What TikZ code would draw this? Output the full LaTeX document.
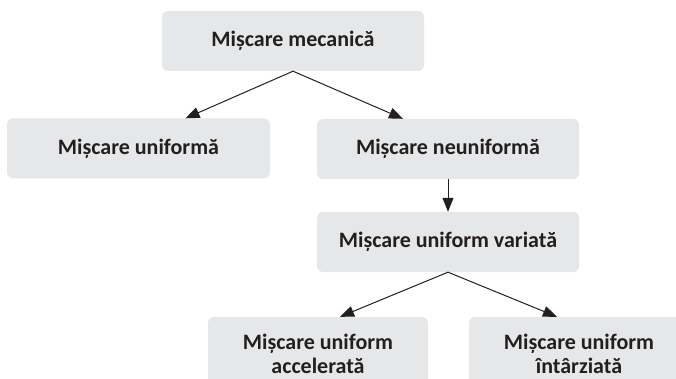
\documentclass[tikz,border=0pt]{standalone}
\usepackage{fontspec}
\setmainfont{Carlito}
\usetikzlibrary{arrows.meta}
\definecolor{boxgray}{HTML}{E6E7E8}
\definecolor{ink}{HTML}{231F20}
\tikzset{
  box/.style={rectangle, rounded corners=6pt, fill=boxgray, draw=none,
    text=ink, font=\fontsize{22}{24}\selectfont\bfseries, inner sep=0pt,
    minimum height=60pt, align=center},
  conn/.style={draw=ink, line width=1pt, -{Triangle[length=14pt,width=11pt]}}
}
\begin{document}
\begin{tikzpicture}[x=1pt,y=-1pt]
\clip (0,0) rectangle (676,379);
\node[box, minimum width=262pt] (top) at (293,41) {Mișcare mecanică};
\node[box, minimum width=263pt] (unif) at (138.5,148.5) {Mișcare uniformă};
\node[box, minimum width=262pt] (neunif) at (448,149) {Mișcare neuniformă};
\node[box, minimum width=262pt] (var) at (448,242) {Mișcare uniform variată};
\node[box, minimum width=220pt, minimum height=74pt] (acc) at (318,354) {Mișcare uniform\\accelerată};
\node[box, minimum width=220pt, minimum height=74pt] (int) at (579,354) {Mișcare uniform\\întârziată};
\draw[conn] (top.south) -- ([xshift=47pt]unif.north);
\draw[conn] (top.south) -- ([xshift=-45pt]neunif.north);
\draw[conn] (neunif.south) -- (var.north);
\draw[conn] (var.south) -- ([xshift=22pt]acc.north);
\draw[conn] (var.south) -- ([xshift=-22pt]int.north);
\end{tikzpicture}
\end{document}
